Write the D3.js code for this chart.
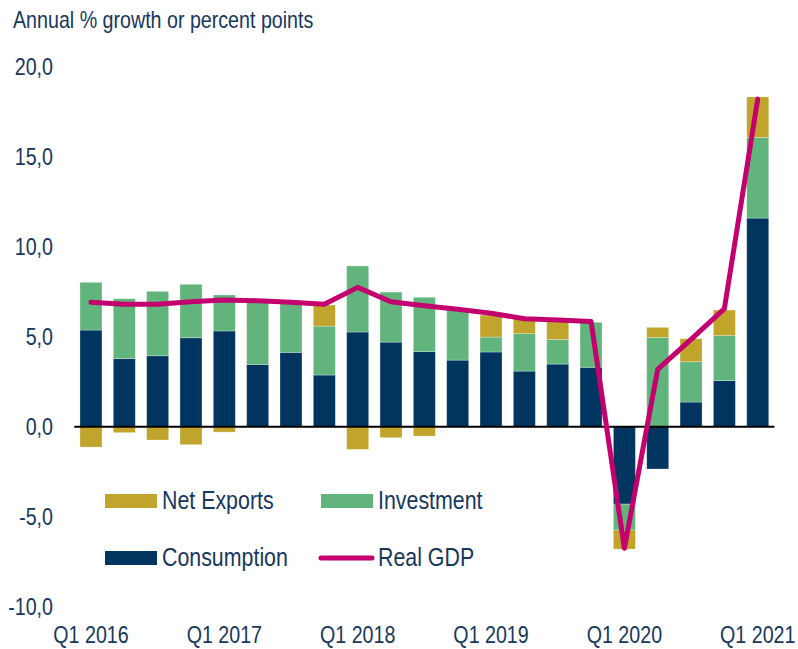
<!DOCTYPE html>
<html>
<head>
<meta charset="utf-8">
<script src="https://cdn.jsdelivr.net/npm/d3@7"></script>
<style>
  html, body { margin: 0; padding: 0; background: #fff; }
  svg text { font-family: "Liberation Sans", Arial, sans-serif; fill: #17375E; }
</style>
</head>
<body>
<svg id="chart" width="798" height="649"></svg>
<script>
const quarters = ["Q1 2016","Q2 2016","Q3 2016","Q4 2016","Q1 2017","Q2 2017","Q3 2017","Q4 2017",
  "Q1 2018","Q2 2018","Q3 2018","Q4 2018","Q1 2019","Q2 2019","Q3 2019","Q4 2019",
  "Q1 2020","Q2 2020","Q3 2020","Q4 2020","Q1 2021"];
const consumption = [5.37,3.78,3.94,4.94,5.32,3.46,4.13,2.87,5.26,4.70,4.17,3.70,4.15,3.09,3.48,3.30,-4.30,-2.35,1.37,2.56,11.59];
const investment  = [2.65,3.33,3.58,2.97,2.00,3.49,2.72,2.72,3.67,2.78,3.02,2.80,0.83,2.08,1.37,2.50,-1.44,4.96,2.24,2.50,4.48];
const netExports  = [-1.13,-0.33,-0.74,-1.00,-0.30,0.00,0.00,1.17,-1.26,-0.61,-0.52,0.00,1.22,0.83,1.04,0.00,-1.06,0.56,1.28,1.42,2.25];
const realGDP     = [6.91,6.80,6.80,6.94,7.04,7.00,6.91,6.80,7.74,6.94,6.72,6.52,6.30,6.00,5.93,5.85,-6.75,3.18,4.85,6.56,18.20];
const yTicks = [-10,-5,0,5,10,15,20];
const xTickLabels = ["Q1 2016","Q1 2017","Q1 2018","Q1 2019","Q1 2020","Q1 2021"];

const colors = { consumption: "#00355F", investment: "#62B47D", netExports: "#C0A42B", gdp: "#C3006E" };
const condense = 0.855;

const svg = d3.select("#chart");

const x = d3.scaleBand().domain(quarters).range([74.3, 774.4]).paddingInner(0.34).paddingOuter(0.17);
const y = d3.scaleLinear().domain([-10, 20]).range([606.7, 66.7]);

const series = [
  { key: "consumption", values: consumption, color: colors.consumption },
  { key: "investment", values: investment, color: colors.investment },
  { key: "netExports", values: netExports, color: colors.netExports }
];
const rects = [];
quarters.forEach((q, i) => {
  let pos = 0, neg = 0;
  series.forEach(s => {
    const v = s.values[i];
    if (v === 0) return;
    let y0, y1;
    if (v > 0) { y0 = pos; y1 = pos + v; pos = y1; }
    else { y0 = neg; y1 = neg + v; neg = y1; }
    rects.push({ q, y0, y1, color: s.color });
  });
});

svg.append("g").selectAll("rect").data(rects).join("rect")
  .attr("x", d => x(d.q))
  .attr("width", x.bandwidth())
  .attr("y", d => y(Math.max(d.y0, d.y1)))
  .attr("height", d => Math.abs(y(d.y0) - y(d.y1)))
  .attr("fill", d => d.color)
  .attr("stroke", "rgba(255,255,255,0.35)")
  .attr("stroke-width", 0.8);

svg.append("line")
  .attr("x1", x.range()[0]).attr("x2", x.range()[1])
  .attr("y1", y(0)).attr("y2", y(0))
  .attr("stroke", "#000").attr("stroke-width", 2);

const line = d3.line().x((d, i) => x(quarters[i]) + x.bandwidth() / 2).y(d => y(d));
svg.append("path").datum(realGDP)
  .attr("d", line)
  .attr("fill", "none")
  .attr("stroke", colors.gdp)
  .attr("stroke-width", 5)
  .attr("stroke-linejoin", "round")
  .attr("stroke-linecap", "round");

const yAxis = d3.axisLeft(y).tickValues(yTicks).tickSize(0).tickPadding(0)
  .tickFormat(d => d3.format(".1f")(d).replace(".", ",").replace("−", "-"));
const gy = svg.append("g").attr("transform", "translate(53,0)").call(yAxis);
gy.select(".domain").remove();
gy.selectAll("text").attr("font-size", 23).attr("fill", "#17375E").attr("font-family", null);

const xAxis = d3.axisBottom(x).tickValues(xTickLabels).tickSize(0).tickPadding(0);
const gx = svg.append("g").attr("transform", "translate(0,626)").call(xAxis);
gx.select(".domain").remove();
gx.selectAll("text").attr("font-size", 23).attr("fill", "#17375E").attr("font-family", null).attr("dy", "0.75em");

svg.append("text").attr("x", 13).attr("y", 28).attr("font-size", 23)
  .text("Annual % growth or percent points");

const legendItems = [
  { label: "Net Exports", color: colors.netExports, type: "rect", x: 105, y: 501 },
  { label: "Investment", color: colors.investment, type: "rect", x: 321, y: 501 },
  { label: "Consumption", color: colors.consumption, type: "rect", x: 105, y: 558 },
  { label: "Real GDP", color: colors.gdp, type: "line", x: 321, y: 558 }
];
const lg = svg.append("g");
legendItems.forEach(it => {
  if (it.type === "rect") {
    lg.append("rect").attr("x", it.x).attr("y", it.y - 7).attr("width", 52).attr("height", 14).attr("fill", it.color);
  } else {
    lg.append("line").attr("x1", it.x).attr("x2", it.x + 51).attr("y1", it.y).attr("y2", it.y)
      .attr("stroke", it.color).attr("stroke-width", 5).attr("stroke-linecap", "round");
  }
  lg.append("text").attr("x", it.x + 57).attr("y", it.y + 8).attr("font-size", 25).text(it.label);
});

// condense every text horizontally around its anchor to mimic the narrow typeface
svg.selectAll("text").each(function() {
  const ax = +(this.getAttribute("x") || 0);
  d3.select(this).attr("transform", `translate(${(ax * (1 - condense)).toFixed(2)},0) scale(${condense},1)`);
});
</script>
</body>
</html>
